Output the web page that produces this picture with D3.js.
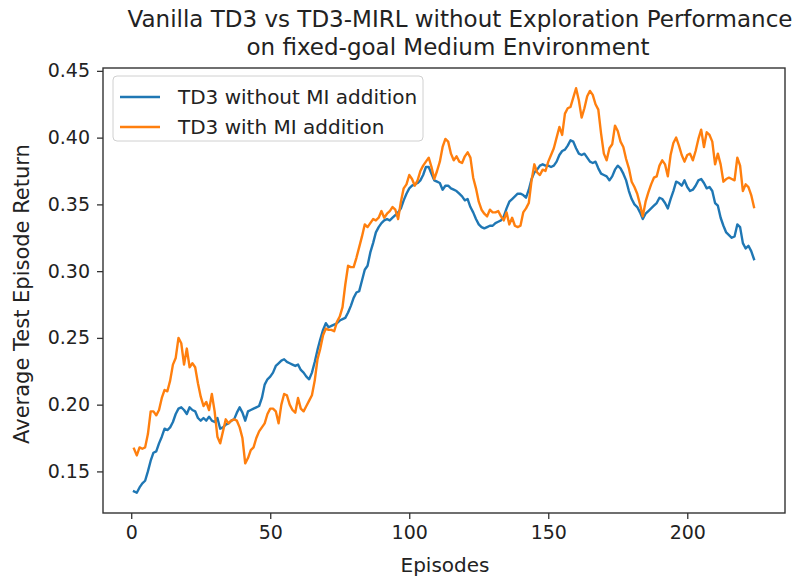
<!DOCTYPE html>
<html>
<head>
<meta charset="utf-8">
<script src="https://cdn.jsdelivr.net/npm/d3@7"></script>
<style>
  html, body { margin: 0; padding: 0; background: #fff; }
  svg { display: block; }
  text { font-family: "DejaVu Sans", sans-serif; fill: #222; }
</style>
</head>
<body>
<svg id="chart" width="800" height="577"></svg>
<script>
const titleLines = ["Vanilla TD3 vs TD3-MIRL without Exploration Performance", "on fixed-goal Medium Environment"];
const xLabel = "Episodes";
const yLabel = "Average Test Episode Return";
const seriesNames = ["TD3 without MI addition", "TD3 with MI addition"];
const seriesColors = ["#1f77b4", "#ff7f0e"];
const xTicks = [0, 50, 100, 150, 200];
const yTicks = [0.15, 0.20, 0.25, 0.30, 0.35, 0.40, 0.45];

const blueValues = [
0.135,0.134,0.138,0.141,0.143,0.150,0.158,0.164,0.165,0.171,
0.176,0.182,0.181,0.183,0.187,0.193,0.197,0.198,0.196,0.193,
0.198,0.196,0.195,0.190,0.188,0.190,0.188,0.191,0.188,0.187,
0.190,0.182,0.183,0.185,0.186,0.188,0.189,0.194,0.198,0.194,
0.188,0.195,0.196,0.197,0.198,0.199,0.205,0.215,0.219,0.221,
0.224,0.229,0.231,0.233,0.234,0.232,0.231,0.230,0.229,0.230,
0.226,0.224,0.221,0.219,0.224,0.232,0.241,0.249,0.256,0.261,
0.258,0.259,0.260,0.261,0.263,0.264,0.265,0.269,0.274,0.280,
0.284,0.285,0.293,0.301,0.304,0.314,0.321,0.329,0.333,0.336,
0.338,0.339,0.338,0.340,0.342,0.344,0.347,0.353,0.358,0.362,
0.364,0.365,0.366,0.368,0.372,0.378,0.378,0.373,0.368,0.367,
0.366,0.361,0.364,0.364,0.362,0.361,0.360,0.358,0.356,0.353,
0.354,0.348,0.344,0.339,0.335,0.333,0.332,0.333,0.334,0.334,
0.336,0.337,0.338,0.341,0.347,0.352,0.354,0.356,0.358,0.358,
0.357,0.355,0.361,0.369,0.374,0.376,0.379,0.380,0.379,0.379,
0.378,0.379,0.382,0.387,0.390,0.391,0.394,0.398,0.397,0.392,
0.388,0.387,0.388,0.385,0.382,0.381,0.382,0.377,0.373,0.372,
0.371,0.368,0.371,0.376,0.379,0.377,0.373,0.368,0.360,0.354,
0.350,0.348,0.344,0.339,0.343,0.345,0.347,0.349,0.351,0.355,
0.354,0.351,0.347,0.354,0.360,0.367,0.366,0.364,0.368,0.363,
0.360,0.361,0.364,0.368,0.369,0.366,0.362,0.363,0.360,0.351,
0.349,0.340,0.334,0.329,0.327,0.325,0.326,0.335,0.333,0.321,
0.317,0.319,0.315,0.309
];

const orangeValues = [
0.167,0.162,0.168,0.167,0.168,0.178,0.195,0.195,0.192,0.196,
0.205,0.211,0.210,0.218,0.230,0.235,0.250,0.246,0.230,0.242,
0.228,0.231,0.228,0.216,0.206,0.199,0.202,0.196,0.208,0.195,
0.176,0.171,0.180,0.189,0.186,0.188,0.189,0.188,0.183,0.175,
0.156,0.160,0.166,0.168,0.175,0.180,0.183,0.186,0.193,0.197,
0.197,0.195,0.186,0.200,0.208,0.207,0.200,0.196,0.194,0.205,
0.197,0.195,0.199,0.203,0.207,0.218,0.234,0.242,0.252,0.257,
0.256,0.256,0.255,0.262,0.266,0.273,0.290,0.304,0.303,0.303,
0.310,0.318,0.326,0.335,0.333,0.336,0.339,0.338,0.340,0.345,
0.340,0.343,0.345,0.348,0.346,0.339,0.352,0.362,0.365,0.372,
0.369,0.364,0.368,0.375,0.379,0.382,0.385,0.378,0.369,0.375,
0.382,0.393,0.399,0.397,0.388,0.383,0.386,0.382,0.381,0.386,
0.389,0.385,0.370,0.362,0.352,0.346,0.343,0.341,0.346,0.344,
0.344,0.345,0.341,0.338,0.344,0.335,0.340,0.334,0.333,0.334,
0.344,0.347,0.351,0.368,0.380,0.374,0.372,0.376,0.375,0.382,
0.387,0.392,0.400,0.408,0.402,0.418,0.422,0.423,0.430,0.437,
0.428,0.415,0.422,0.431,0.435,0.432,0.425,0.421,0.403,0.388,
0.383,0.392,0.395,0.409,0.405,0.397,0.393,0.384,0.377,0.367,
0.363,0.358,0.350,0.341,0.352,0.359,0.365,0.370,0.371,0.379,
0.383,0.380,0.371,0.387,0.396,0.400,0.394,0.387,0.382,0.387,
0.388,0.383,0.390,0.399,0.406,0.393,0.404,0.402,0.397,0.380,
0.388,0.380,0.367,0.369,0.370,0.369,0.368,0.385,0.379,0.360,
0.365,0.363,0.357,0.348
];

const episodes = blueValues.map((d, i) => i + 1);
const series = [blueValues, orangeValues];

const svg = d3.select("#chart");
const plot = { left: 103, right: 785, top: 68, bottom: 513 };

// matplotlib-style 5% margins around data
const xMin = d3.min(episodes), xMax = d3.max(episodes);
const allY = blueValues.concat(orangeValues);
const yMin = d3.min(allY), yMax = d3.max(allY);
const xPad = (xMax - xMin) * 0.05, yPad = (yMax - yMin) * 0.05;

const x = d3.scaleLinear().domain([xMin - xPad, xMax + xPad]).range([plot.left, plot.right]);
const y = d3.scaleLinear().domain([yMin - yPad, yMax + yPad]).range([plot.bottom, plot.top]);

// lines
const line = d3.line().x((d, i) => x(episodes[i])).y(d => y(d));
const g = svg.append("g");
series.forEach((vals, k) => {
  g.append("path")
    .datum(vals)
    .attr("d", line)
    .attr("fill", "none")
    .attr("stroke", seriesColors[k])
    .attr("stroke-width", 2.4)
    .attr("stroke-linejoin", "round")
    .attr("stroke-linecap", "square");
});

// axes
const xAxis = d3.axisBottom(x).tickValues(xTicks).tickSize(6).tickPadding(7).tickFormat(d3.format("d"));
const yAxis = d3.axisLeft(y).tickValues(yTicks).tickSize(6).tickPadding(7).tickFormat(d3.format(".2f"));

const gx = svg.append("g").attr("transform", `translate(0,${plot.bottom})`).call(xAxis);
const gy = svg.append("g").attr("transform", `translate(${plot.left},0)`).call(yAxis);
[gx, gy].forEach(ga => {
  ga.select(".domain").remove();
  ga.selectAll(".tick line").attr("stroke", "#333").attr("stroke-width", 1.3);
  ga.selectAll(".tick text").attr("font-size", 19).attr("fill", "#222")
    .attr("font-family", "DejaVu Sans, sans-serif");
});

// frame
svg.append("rect")
  .attr("x", plot.left).attr("y", plot.top)
  .attr("width", plot.right - plot.left).attr("height", plot.bottom - plot.top)
  .attr("fill", "none").attr("stroke", "#333").attr("stroke-width", 1.4);

// title
svg.append("text").attr("x", 460).attr("y", 27).attr("text-anchor", "middle")
  .attr("font-size", 23).text(titleLines[0]);
svg.append("text").attr("x", 448).attr("y", 55).attr("text-anchor", "middle")
  .attr("font-size", 23).text(titleLines[1]);

// axis labels
svg.append("text").attr("x", 445).attr("y", 572)
  .attr("text-anchor", "middle").attr("font-size", 20).text(xLabel);
svg.append("text")
  .attr("transform", `translate(29,${294}) rotate(-90)`)
  .attr("text-anchor", "middle").attr("font-size", 21).text(yLabel);

// legend
const lg = svg.append("g").attr("transform", `translate(113,76)`);
lg.append("rect").attr("width", 310).attr("height", 65).attr("rx", 4)
  .attr("fill", "#fff").attr("fill-opacity", 0.8).attr("stroke", "#d0d0d0").attr("stroke-width", 1);
seriesNames.forEach((name, k) => {
  const yy = 21 + k * 30;
  lg.append("line").attr("x1", 7).attr("x2", 47).attr("y1", yy).attr("y2", yy)
    .attr("stroke", seriesColors[k]).attr("stroke-width", 2.6);
  lg.append("text").attr("x", 65).attr("y", yy + 7).attr("font-size", 20).text(name);
});
</script>
</body>
</html>
